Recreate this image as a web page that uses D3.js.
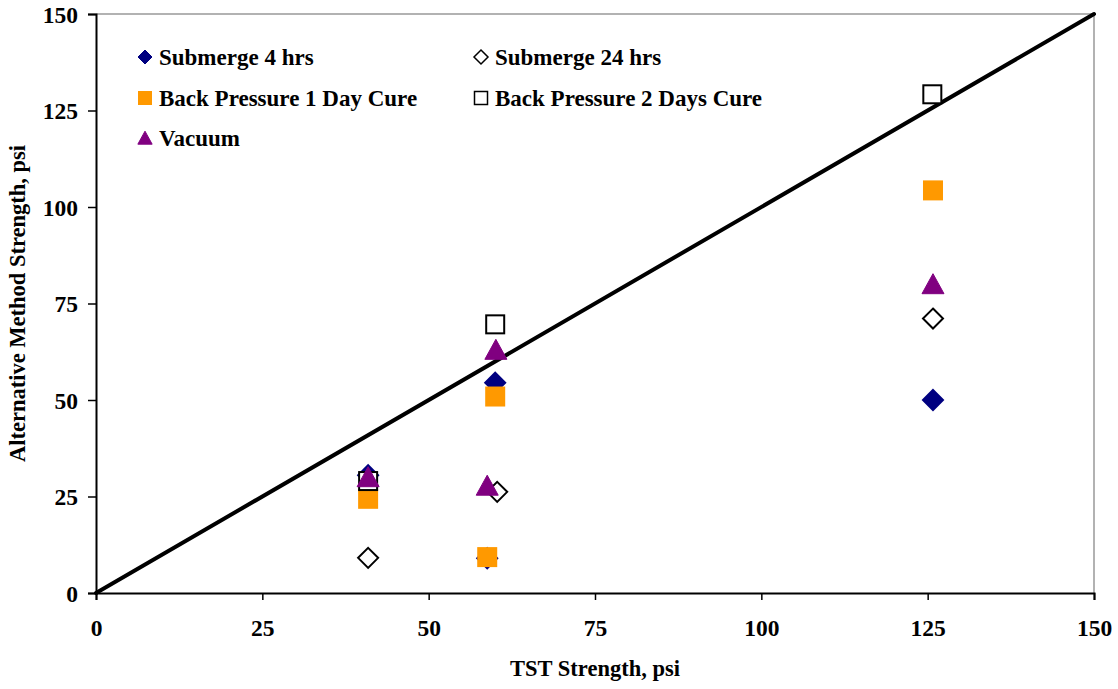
<!DOCTYPE html>
<html><head><meta charset="utf-8">
<script src="https://cdn.jsdelivr.net/npm/d3@7/dist/d3.min.js"></script>
<style>body{margin:0;background:#fff}svg{display:block}text{font-family:"Liberation Serif","Times New Roman",serif;font-weight:bold}</style>
</head><body><svg id="c" width="1118" height="689"></svg>
<script>
const xTicks = [0,25,50,75,100,125,150];
const yTicks = [0,25,50,75,100,125,150];
const submerge4 = [[40.9,30.5],[58.8,9],[60,54.5],[125.8,50]];
const submerge24 = [[40.9,9.1],[60.3,26.2],[125.8,71.1]];
const backPressure1 = [[40.9,24.4],[60,50.9],[58.8,9.3],[125.8,104.3]];
const backPressure2 = [[40.9,29],[60,69.6],[125.7,129.2]];
const vacuum = [[40.9,30],[60.1,63],[58.8,27.8],[125.8,80]];
const refLine = [[0,0],[150,150]];
const seriesNames = ["Submerge 4 hrs","Submerge 24 hrs","Back Pressure 1 Day Cure","Back Pressure 2 Days Cure","Vacuum"];

const svg = d3.select("#c");
const L=96,R=1094,T=14,B=593;
const x = d3.scaleLinear().domain([0,150]).range([L,R]);
const y = d3.scaleLinear().domain([0,150]).range([B,T]);

// border top/right gray
svg.append("path").attr("d",`M${L},${T}H${R}V${B}`).attr("fill","none").attr("stroke","#999").attr("stroke-width",1.5);

const xa = svg.append("g").attr("transform",`translate(0,${B})`)
  .call(d3.axisBottom(x).tickValues(xTicks).tickSize(7));
const ya = svg.append("g").attr("transform",`translate(${L},0)`)
  .call(d3.axisLeft(y).tickValues(yTicks).tickSize(8).tickPadding(10));
[xa,ya].forEach(a=>{a.select(".domain").attr("stroke","#000").attr("stroke-width",2);
  a.selectAll(".tick line").attr("stroke","#000").attr("stroke-width",1.5);
  a.selectAll("text").attr("font-size",23.5).attr("fill","#000").attr("font-family","Liberation Serif, serif").attr("font-weight","bold");});
xa.selectAll("text").attr("y",43).attr("dy",0);
ya.selectAll("text").attr("dy","0.35em");

svg.append("text").attr("x",(L+R)/2).attr("y",676).attr("text-anchor","middle").attr("font-size",22.5).text("TST Strength, psi");
svg.append("text").attr("transform",`translate(25,${(T+B)/2}) rotate(-90)`).attr("text-anchor","middle").attr("font-size",22.5).text("Alternative Method Strength, psi");

// reference line
svg.append("path").datum(refLine).attr("d",d3.line().x(d=>x(d[0])).y(d=>y(d[1])))
  .attr("stroke","#000").attr("stroke-width",4).attr("fill","none").attr("stroke-linecap","round");

function marker(g, type, s, fill, stroke, sw){
  if(type==="diamond") g.append("path").attr("d",`M0,${-s}L${s},0L0,${s}L${-s},0Z`).attr("fill",fill).attr("stroke",stroke).attr("stroke-width",sw);
  else if(type==="square") g.append("rect").attr("x",-s).attr("y",-s).attr("width",2*s).attr("height",2*s).attr("fill",fill).attr("stroke",stroke).attr("stroke-width",sw);
  else g.append("path").attr("d",`M0,${-s*1.05}L${s*1.1},${s*0.95}L${-s*1.1},${s*0.95}Z`).attr("fill",fill).attr("stroke",stroke).attr("stroke-width",1);
}
const styles = [
  {data:submerge4,type:"diamond",fill:"#000080",stroke:"#000080",s:10},
  {data:submerge24,type:"diamond",fill:"#fff",stroke:"#000",s:10},
  {data:backPressure1,type:"square",fill:"#FF9900",stroke:"#FF9900",s:9},
  {data:backPressure2,type:"square",fill:"#fff",stroke:"#000",s:9},
  {data:vacuum,type:"triangle",fill:"#800080",stroke:"#800080",s:10}
];
styles.forEach(st=>{
  st.data.forEach(d=>{
    const g=svg.append("g").attr("transform",`translate(${x(d[0])},${y(d[1])})`);
    marker(g,st.type,st.s,st.fill,st.stroke,2);
  });
});

// legend
const legPos=[[145,57],[481,57],[145,98],[481,98],[145,138]];
styles.forEach((st,i)=>{
  const g=svg.append("g").attr("transform",`translate(${legPos[i][0]},${legPos[i][1]})`);
  marker(g,st.type,st.type==="diamond"?7:6.5,st.fill,st.stroke,st.fill==="#fff"?1.5:1);
  g.append("text").attr("x",14).attr("y",0).attr("dy","0.35em").attr("font-size",23).text(seriesNames[i]);
});
</script></body></html>
